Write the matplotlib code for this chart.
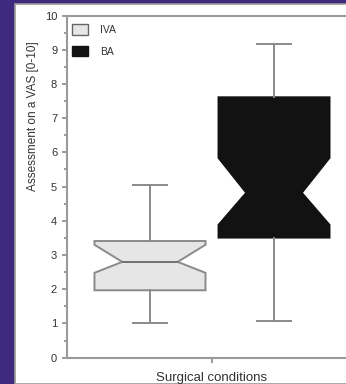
import matplotlib as mpl
mpl.use("Agg")
import matplotlib.pyplot as plt
from matplotlib.patches import Patch, Rectangle

plt.rcParams['font.family'] = ['Liberation Sans', 'DejaVu Sans']

# data
groups = ["IVA", "BA"]
medians = [2.8, 4.82]
q1 = [1.97, 3.51]
q3 = [3.41, 7.61]
whis_lo = [1.01, 1.07]
whis_hi = [5.05, 9.16]
ci_lo = [2.48, 3.88]
ci_hi = [3.3, 5.84]
fills = ["#e6e6e6", "#121212"]

purple = "#3f2a7f"
edge_gray = "#8a8a8a"

fig = plt.figure(figsize=(3.46, 3.84), dpi=100, facecolor=purple)
# white panel inside the purple frame
panel = Rectangle((15 / 346, 0), 1, (384 - 4) / 384, transform=fig.transFigure,
                  facecolor="white", edgecolor="#9a9a9a", linewidth=1.2, zorder=-5)
fig.patches.append(panel)

ax = fig.add_axes([67 / 346, (384 - 357.7) / 384, (357 - 67) / 346, (357.7 - 15.5) / 384])
ax.set_facecolor("white")

stats = []
for i in range(len(groups)):
    stats.append(dict(label=groups[i], med=medians[i], q1=q1[i], q3=q3[i],
                      whislo=whis_lo[i], whishi=whis_hi[i],
                      cilo=ci_lo[i], cihi=ci_hi[i], fliers=[]))

bp = ax.bxp(stats, positions=[1, 2], widths=0.895, shownotches=True, patch_artist=True,
            showfliers=False, capwidths=0.27,
            boxprops=dict(edgecolor=edge_gray, linewidth=1.4),
            whiskerprops=dict(color=edge_gray, linewidth=1.4),
            capprops=dict(color=edge_gray, linewidth=1.4),
            medianprops=dict(color="#707070", linewidth=1.4))
for box, c in zip(bp["boxes"], fills):
    box.set_facecolor(c)
bp["boxes"][1].set_edgecolor("#121212")
bp["medians"][1].set_color("#121212")

ax.set_xlim(0.331, 2.669)
ax.set_ylim(0, 10)
ax.set_xticks([1.5])
ax.set_xticklabels([""])
ax.set_yticks(range(0, 11))
ax.set_yticks([v + 0.5 for v in range(10)], minor=True)

for s in ax.spines.values():
    s.set_color("#9a9a9a")
    s.set_linewidth(1.5)
ax.tick_params(axis="both", which="major", direction="out", length=3.6, width=1.2,
               color="#8a8a8a", labelsize=8, labelcolor="#333333", pad=3.5)
ax.tick_params(axis="y", which="minor", direction="out", length=2.2, width=1.2,
               color="#8a8a8a")

ax.set_ylabel("Assessment on a VAS [0-10]", fontsize=8.5, color="#333333")
ax.yaxis.set_label_coords(-0.097, 0.706)
ax.set_xlabel("Surgical conditions", fontsize=9.5, color="#333333", labelpad=3)

handles = [Patch(facecolor=fills[0], edgecolor="#666666", linewidth=1.0),
           Patch(facecolor=fills[1], edgecolor="#121212", linewidth=1.0)]
ax.legend(handles, groups, loc="upper left", bbox_to_anchor=(0, 0.989),
          frameon=False, fontsize=7.5, handlelength=1.54, handleheight=1.15,
          borderaxespad=0.1, labelspacing=1.05, handletextpad=1.1,
          labelcolor="#333333")

fig.savefig("out.png", dpi=100, facecolor=purple)
